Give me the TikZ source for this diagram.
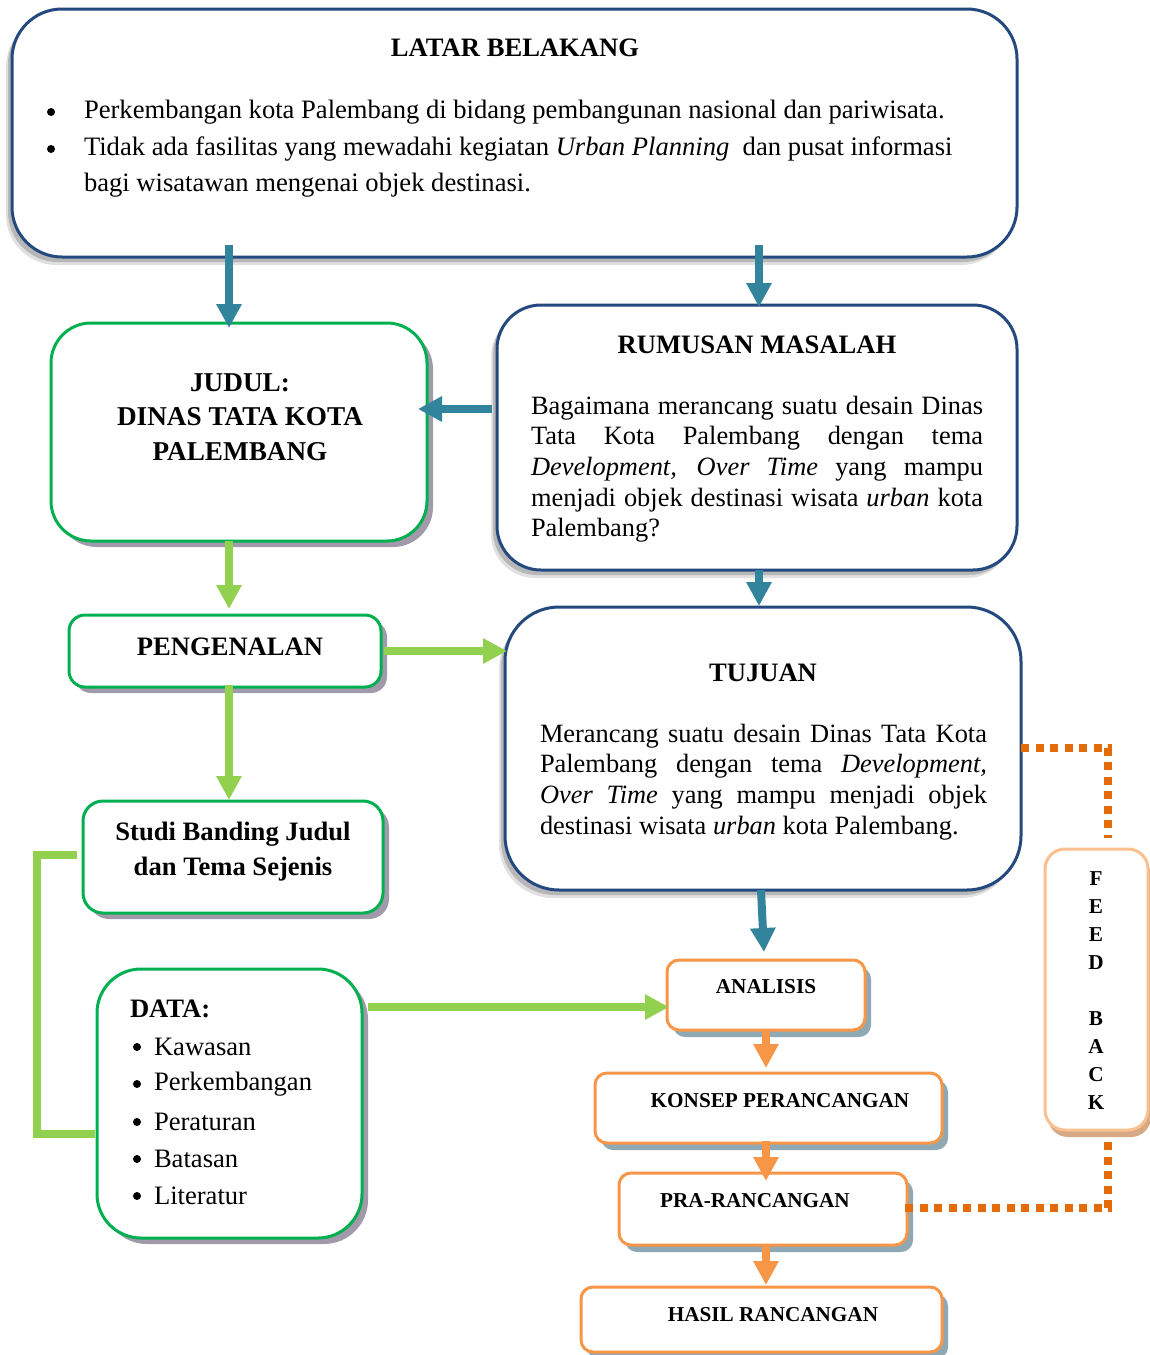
\documentclass[tikz,border=0pt]{standalone}
\usepackage{fontspec}
\setmainfont{Liberation Serif}
\usetikzlibrary{fit,calc,arrows.meta,shadows}
\definecolor{dblue}{HTML}{24497F}
\definecolor{tealc}{HTML}{31849B}
\definecolor{gborder}{HTML}{00B050}
\definecolor{garrow}{HTML}{92D050}
\definecolor{oborder}{HTML}{F79646}
\definecolor{oarrow}{HTML}{F79646}
\definecolor{odot}{HTML}{E36C09}
\definecolor{fbborder}{HTML}{FAC090}
\definecolor{gshadow}{HTML}{A19AAB}
\definecolor{oshadow}{HTML}{8EA9B4}
\definecolor{fbshadow}{HTML}{D6A884}
\begin{document}
\begin{tikzpicture}[x=0.5pt,y=-0.5pt,
  every node/.style={inner sep=0pt, outer sep=0pt},
  bluebox/.style={draw=dblue, line width=1.5pt, fill=white, rounded corners=#1,
     drop shadow={shadow xshift=-3pt, shadow yshift=-4pt, fill=black, opacity=.12},
     drop shadow={shadow xshift=-2pt, shadow yshift=-2.5pt, fill=black, opacity=.18}},
  greenbox/.style={draw=gborder, line width=1.5pt, fill=white, rounded corners=#1,
     drop shadow={shadow xshift=3pt, shadow yshift=-3pt, fill=gshadow, opacity=1}},
  orangebox/.style={draw=oborder, line width=1.5pt, fill=white, rounded corners=6pt,
     drop shadow={shadow xshift=3pt, shadow yshift=-3.5pt, fill=oshadow, opacity=1}},
  fbbox/.style={draw=fbborder, line width=1.5pt, fill=white, rounded corners=10pt,
     drop shadow={shadow xshift=1.5pt, shadow yshift=-3.5pt, fill=fbshadow, opacity=1}},
  bul/.style={circle, fill=black, minimum size=4pt},
  headtxt/.style={font=\bfseries\fontsize{13.3}{17.5}\selectfont},
  bodytxt/.style={font=\fontsize{13.3}{18.5}\selectfont},
  paratxt/.style={font=\fontsize{13.2}{15.3}\selectfont, anchor=north west, align=justify},
  itemtxt/.style={font=\fontsize{13.3}{18.75}\selectfont},
  smalltxt/.style={font=\bfseries\fontsize{10.6}{14}\selectfont},
  arr/.style={draw=#1, line width=4pt, -{Triangle[width=12pt,length=12pt]}},
  greenline/.style={draw=garrow, line width=4pt, miter limit=10},
  dotline/.style={draw=odot, line width=4pt, dash pattern=on 4pt off 3.25pt}
]
\fill[white] (0,0) rectangle (1150,1355);
\useasboundingbox (0,0) rectangle (1150,1355);

% boxes
\node[bluebox=25pt, fit={(12,9) (1017,257)}] (latar) {};
\node[bluebox=22pt, fit={(497,305) (1017,570)}] (rum) {};
\node[bluebox=27pt, fit={(505,607) (1021,890)}] (tuj) {};
\node[greenbox=20pt, fit={(51,323) (427,541)}] (jud) {};
\node[greenbox=8pt, fit={(69,615) (381,687)}] (peng) {};
\node[greenbox=10pt, fit={(83,801) (383,913)}] (studi) {};
\node[greenbox=22pt, fit={(97,969) (362,1238)}] (data) {};
\node[orangebox, fit={(667,960) (865,1030)}] (ana) {};
\node[orangebox, fit={(595,1073) (942,1143)}] (kon) {};
\node[orangebox, fit={(619,1173) (907,1245)}] (pra) {};
\node[orangebox, fit={(581,1287) (942,1352)}] (hasil) {};
\node[fbbox, fit={(1045,849) (1148,1130)}] (fb) {};

% texts
\node[headtxt] (latart) at (515,48) {LATAR BELAKANG};
\node[bul] (lb1) at (51,112) {};
\node[bodytxt, anchor=west] (lt1) at (84,112) {Perkembangan kota Palembang di bidang pembangunan nasional dan pariwisata.};
\node[bul] (lb2) at (51,149) {};
\node[bodytxt, anchor=west] (lt2) at (84,149) {Tidak ada fasilitas yang mewadahi kegiatan \textit{Urban Planning}\ \ dan pusat informasi};
\node[bodytxt, anchor=west] (lt3) at (84,185) {bagi wisatawan mengenai objek destinasi.};

\node[align=center, font=\bfseries\fontsize{13.6}{17.25}\selectfont] (judt) at (240,417) {JUDUL:\\DINAS TATA KOTA\\PALEMBANG};

\node[headtxt] (rumt) at (757,345) {RUMUSAN MASALAH};
\node[paratxt, text width=226pt] (rump) at (531,396) {\hyphenpenalty=10000\relax\tolerance=10000\relax Bagaimana merancang suatu desain Dinas\linebreak Tata Kota Palembang dengan tema\linebreak \textit{Development, Over Time} yang mampu\linebreak menjadi objek destinasi wisata \textit{urban} kota\linebreak Palembang?};

\node[headtxt] (tujt) at (763,673) {TUJUAN};
\node[paratxt, text width=223.5pt] (tujp) at (540,724) {\hyphenpenalty=10000\relax\tolerance=10000\relax Merancang suatu desain Dinas Tata Kota\linebreak Palembang dengan tema \textit{Development,}\linebreak \textit{Over Time} yang mampu menjadi objek\linebreak destinasi wisata \textit{urban} kota Palembang.};

\node[headtxt] (pengt) at (230,647) {PENGENALAN};
\node[headtxt, align=center] (studit) at (233,852) {Studi Banding Judul\\dan Tema Sejenis};

\node[headtxt, anchor=west] (datat) at (130,1009) {DATA:};
\foreach \t/\yy [count=\i] in {Kawasan/1047, Perkembangan/1084, Peraturan/1122, Batasan/1159, Literatur/1196}{
  \node[bul] (db\i) at (137,\yy) {};
  \node[itemtxt, anchor=west] (di\i) at (154,\yy) {\t};
}

\node[smalltxt] (anat) at (766,987) {ANALISIS};
\node[smalltxt] (kont) at (780,1101) {KONSEP PERANCANGAN};
\node[smalltxt] (prat) at (755,1201) {PRA-RANCANGAN};
\node[smalltxt] (hasilt) at (773,1315) {HASIL RANCANGAN};
\node[smalltxt, align=center] (fbt) at (1096,991) {F\\E\\E\\D\\[14pt]B\\A\\C\\K};

% teal arrows
\draw[arr=tealc] ($(latar.south -| jud.north)+(-10,-12)$) -- ($(jud.north)+(-10,5)$);
\draw[arr=tealc] ($(latar.south -| rum.north)+(2,-12)$) -- ($(rum.north)+(2,2)$);
\draw[arr=tealc] ($(rum.west |- jud.east)+(-5,-23)$) -- ($(jud.east)+(-9,-23)$);
\draw[arr=tealc] ($(rum.south)+(2,0)$) -- ($(tuj.north)+(-4,-1)$);
\draw[arr=tealc] ($(tuj.south)+(-2,0)$) -- ($(ana.north)+(-2,-8)$);

% green arrows
\draw[arr=garrow] ($(jud.south)+(-10,0)$) -- ($(peng.north -| jud.south)+(-10,-6)$);
\draw[arr=garrow] ($(peng.east)+(3,0)$) -- ($(tuj.west |- peng.east)+(2,0)$);
\draw[arr=garrow] ($(peng.south)+(4,-2)$) -- ($(studi.north)+(-4,-1)$);
\draw[arr=garrow] ($(data.east |- ana.west)+(6,12)$) -- ($(ana.west)+(2,12)$);
\coordinate (bend) at (37,1134);
\draw[greenline] ($(studi.west)+(-6,-2)$) -| (bend) -- ($(data.west |- bend)+(-2,0)$);

% orange arrows
\draw[arr=oarrow] (ana.south) -- ($(ana.south |- kon.north)+(0,-5)$);
\draw[arr=oarrow] ($(kon.south -| ana.south)+(0,-2)$) -- ($(pra.north -| ana.south)+(0,8)$);
\draw[arr=oarrow] (pra.south -| ana.south) -- ($(hasil.north -| ana.south)+(0,-2)$);

% feedback dotted lines
\draw[dotline] ($(tuj.east)+(0,-1)$) -| ($(fb.north)+(11.5,-11)$);
\draw[dotline] ($(pra.east)+(-2,-1)$) -| ($(fb.south)+(11.5,8)$);
\end{tikzpicture}
\end{document}
